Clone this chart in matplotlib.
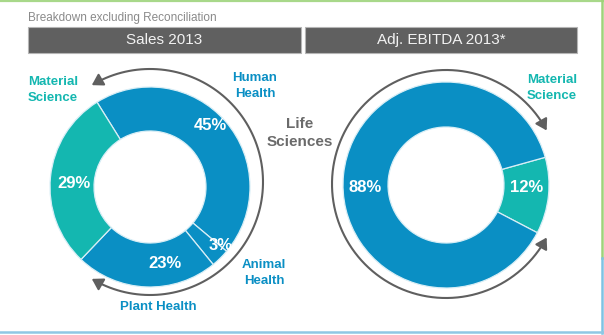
import numpy as np
import matplotlib
matplotlib.use("Agg")
import matplotlib.pyplot as plt
from matplotlib.patches import Rectangle, FancyArrowPatch
from matplotlib.path import Path

plt.rcParams['font.family'] = ['Liberation Sans', 'DejaVu Sans']

# ---- data ----
sales_labels = ["Human Health", "Animal Health", "Plant Health", "Material Science"]
sales_values = [45, 3, 23, 29]
ebitda_labels = ["Material Science", "Life Sciences"]
ebitda_values = [12, 88]
panel_titles = ["Sales 2013", "Adj. EBITDA 2013*"]
subtitle = "Breakdown excluding Reconciliation"

BLUE = "#0a8fc4"
TEAL = "#14b7b0"
GRAY = "#5f5f5f"

W, H = 604, 335
fig = plt.figure(figsize=(W / 100, H / 100), dpi=100)
ax = fig.add_axes([0, 0, 1, 1])


def Y(y):
    return H - y


# donuts
ax.pie(sales_values, colors=[BLUE, BLUE, BLUE, TEAL], startangle=122,
       counterclock=False, center=(150, Y(187)), radius=100,
       wedgeprops=dict(width=44, edgecolor="#d8eef6", linewidth=0.9))
ax.pie(ebitda_values, colors=[TEAL, BLUE], startangle=15.6,
       counterclock=False, center=(446, Y(185)), radius=103,
       wedgeprops=dict(width=45, edgecolor="#d8eef6", linewidth=0.9))


def arc_arrow(cx, cy, r, a0, a1):
    t = np.radians(np.linspace(a0, a1, 120))
    pts = np.column_stack([cx + r * np.cos(t), Y(cy) + r * np.sin(t)])
    p = FancyArrowPatch(path=Path(pts), arrowstyle="<|-|>,head_length=6.5,head_width=4",
                        color=GRAY, linewidth=1.5, shrinkA=0, shrinkB=0)
    ax.add_patch(p)


arc_arrow(150, 182, 113, 121, -121)
arc_arrow(446, 184, 114, 28, 332)

# header
ax.text(28, Y(18), subtitle, fontsize=8.5, color="#8a8a8a", ha="left", va="center")
for x0, x1, t in [(28, 300.5, panel_titles[0]), (305, 577, panel_titles[1])]:
    ax.add_patch(Rectangle((x0, Y(53)), x1 - x0, 26, facecolor="#606060",
                           edgecolor="#b5b5b5", linewidth=0.8))
    ax.text((x0 + x1) / 2, Y(40), t, fontsize=11, color="#f2f2f2",
            ha="center", va="center")

# percentage labels
pct = dict(fontsize=12, color="white", fontweight="bold", ha="center", va="center")
ax.text(210, Y(125), f"{sales_values[0]}%", **pct)
ax.text(221, Y(245), f"{sales_values[1]}%", **pct)
ax.text(165, Y(264), f"{sales_values[2]}%", **pct)
ax.text(74, Y(183), f"{sales_values[3]}%", **pct)
ax.text(527, Y(188), f"{ebitda_values[0]}%", **pct)
ax.text(365, Y(188), f"{ebitda_values[1]}%", **pct)

# category labels
lab = dict(fontsize=9.5, fontweight="bold", ha="center", va="center", linespacing=1.35)
ax.text(53, Y(90), "Material\nScience", color=TEAL, **lab)
ax.text(255, Y(86), "Human\nHealth", color=BLUE, **lab)
ax.text(264, Y(273), "Animal\nHealth", color=BLUE, **lab)
ax.text(158, Y(307), "Plant Health", color=BLUE, **lab)
ax.text(552, Y(88), "Material\nScience", color=TEAL, **lab)
ax.text(300, Y(133), "Life\nSciences", color="#6a6a6a", fontsize=11, fontweight="bold",
        ha="center", va="center", linespacing=1.3)

# frame lines
ax.plot([0, W], [Y(1), Y(1)], color="#a8d88a", linewidth=1.6)
ax.plot([602, 602], [Y(0), Y(258)], color="#9fd27a", linewidth=1.8)
ax.plot([602, 602], [Y(258), Y(333)], color="#7fc2e2", linewidth=1.8)
ax.plot([0, W], [Y(332), Y(332)], color="#8fc8e4", linewidth=1.8)

ax.set_xlim(0, W)
ax.set_ylim(0, H)
ax.set_aspect("equal")
ax.axis("off")
fig.savefig("out.png", dpi=100)
